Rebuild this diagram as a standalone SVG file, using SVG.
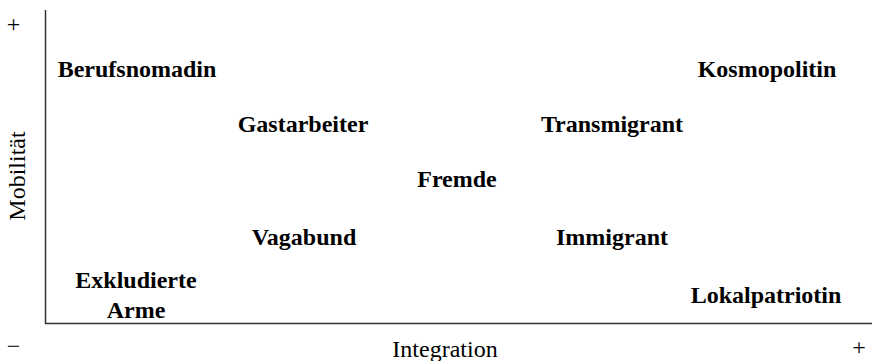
<svg xmlns="http://www.w3.org/2000/svg" width="872" height="361" viewBox="0 0 872 361">
<style>
.n{font-family:"Liberation Serif","Times New Roman",serif;font-size:24px;font-weight:bold;fill:#000;text-anchor:middle}
.a{font-family:"Liberation Serif","Times New Roman",serif;font-size:24px;fill:#000;text-anchor:middle}
.ax{stroke:#333;stroke-width:1.5;fill:none}
</style>
<rect width="872" height="361" fill="#fff"/>
<g id="axes">
<line class="ax" x1="45.5" y1="10" x2="45.5" y2="324"/>
<line class="ax" x1="45" y1="323.5" x2="872" y2="323.5"/>
</g>
<g id="labels">
<text class="a" x="13.5" y="32">+</text>
<text class="a" x="13.5" y="354">−</text>
<text class="a" x="859" y="355">+</text>
<text class="a" x="445" y="357">Integration</text>
<text class="a" transform="translate(25,176) rotate(-90)">Mobilität</text>
</g>
<g id="Berufsnomadin"><text class="n" x="137" y="77">Berufsnomadin</text></g>
<g id="Kosmopolitin"><text class="n" x="767" y="77">Kosmopolitin</text></g>
<g id="Gastarbeiter"><text class="n" x="303" y="132">Gastarbeiter</text></g>
<g id="Transmigrant"><text class="n" x="612" y="132">Transmigrant</text></g>
<g id="Fremde"><text class="n" x="457" y="187">Fremde</text></g>
<g id="Vagabund"><text class="n" x="304" y="245">Vagabund</text></g>
<g id="Immigrant"><text class="n" x="612" y="245">Immigrant</text></g>
<g id="ExkludierteArme"><text class="n" x="136" y="288">Exkludierte</text><text class="n" x="136" y="318">Arme</text></g>
<g id="Lokalpatriotin"><text class="n" x="766" y="303">Lokalpatriotin</text></g>
<g id="connectors"></g>
</svg>
